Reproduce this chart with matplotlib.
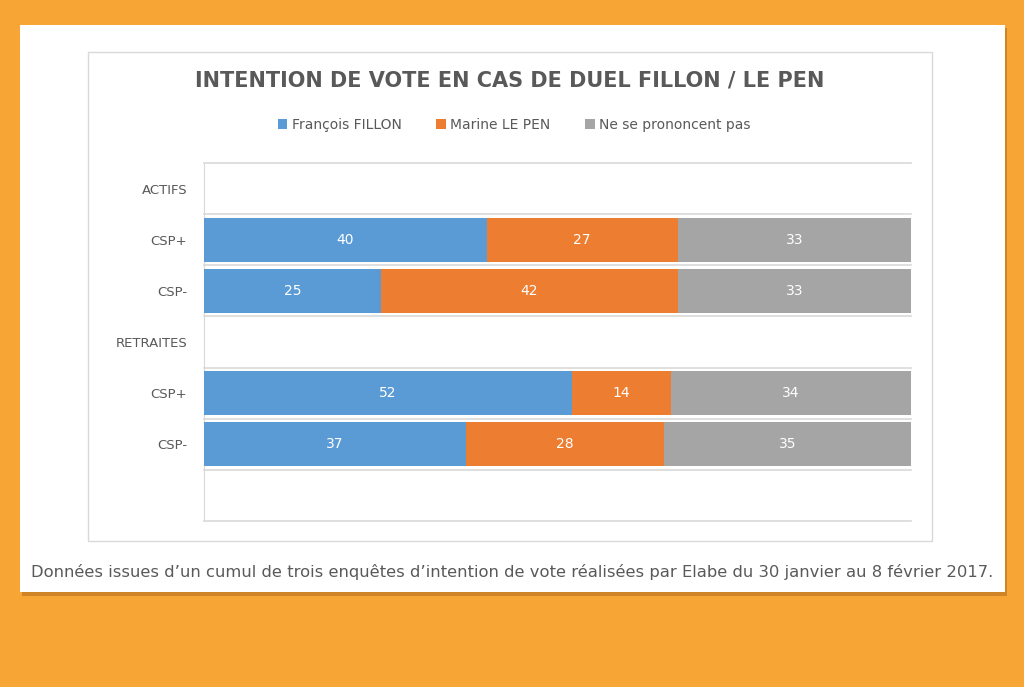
import matplotlib
matplotlib.use("Agg")
import matplotlib.pyplot as plt
from matplotlib.patches import Rectangle
import numpy as np

categories = ["ACTIFS", "CSP+", "CSP-", "RETRAITES", "CSP+", "CSP-", ""]
fillon = [0, 40, 25, 0, 52, 37, 0]
lepen = [0, 27, 42, 0, 14, 28, 0]
nspp = [0, 33, 33, 0, 34, 35, 0]
series_names = ["François FILLON", "Marine LE PEN", "Ne se prononcent pas"]
colors = ["#5B9BD5", "#ED7D31", "#A5A5A5"]

W, H = 1024, 687
fig = plt.figure(figsize=(W / 100, H / 100), dpi=100)
fig.patch.set_facecolor("#F7A534")

def fx(px):
    return px / W

def fy(py):
    return 1 - py / H

# card shadow and card
fig.patches.append(Rectangle((fx(22), fy(596)), fx(985), (596 - 28) / H,
                             transform=fig.transFigure, facecolor="#A06018",
                             alpha=0.45, edgecolor="none", zorder=0))
fig.patches.append(Rectangle((fx(20), fy(592)), fx(985), (592 - 25) / H,
                             transform=fig.transFigure, facecolor="white",
                             edgecolor="none", zorder=1))
# inner chart frame
fig.patches.append(Rectangle((fx(88), fy(541)), fx(932 - 88), (541 - 52) / H,
                             transform=fig.transFigure, facecolor="white",
                             edgecolor="#D9D9D9", linewidth=1, zorder=2))

ax = fig.add_axes([fx(204), fy(521), fx(911 - 204), (521 - 163) / H])
ax.set_zorder(3)
ax.set_facecolor("none")
y = np.arange(len(categories))
data = [fillon, lepen, nspp]
left = np.zeros(len(categories))
for vals, c, name in zip(data, colors, series_names):
    vals = np.array(vals, dtype=float)
    bars = ax.barh(y, vals, left=left, height=0.86, color=c, label=name, zorder=3)
    for b, v in zip(bars, vals):
        if v > 0:
            ax.text(b.get_x() + b.get_width() / 2, b.get_y() + b.get_height() / 2,
                    f"{int(v)}", ha="center", va="center", color="white",
                    fontsize=10, zorder=4)
    left += vals

ax.set_xlim(0, 100)
ax.set_ylim(len(categories) - 0.5, -0.5)
ax.set_yticks(y)
ax.set_yticklabels(categories, fontsize=9.5, color="#595959")
ax.tick_params(axis="y", length=0, pad=12)
ax.set_xticks([])
for yy in np.arange(-0.5, len(categories), 1.0):
    ax.axhline(yy, color="#D9D9D9", linewidth=1.2, zorder=1, clip_on=False)
for s in ["top", "right", "bottom"]:
    ax.spines[s].set_visible(False)
ax.spines["left"].set_color("#D9D9D9")

fig.text(fx(510), fy(80), "INTENTION DE VOTE EN CAS DE DUEL FILLON / LE PEN",
         ha="center", va="center", fontsize=15, fontweight="bold", color="#595959",
         zorder=5)
leg = fig.legend(*ax.get_legend_handles_labels(), loc="center",
                 bbox_to_anchor=(fx(514), fy(125)), ncol=3, frameon=False,
                 fontsize=10, handlelength=0.7, handleheight=0.7,
                 handletextpad=0.3, columnspacing=2.5, labelcolor="#595959")
fig.text(fx(512), fy(572),
         "Données issues d’un cumul de trois enquêtes d’intention de vote réalisées par Elabe du 30 janvier au 8 février 2017.",
         ha="center", va="center", fontsize=11.8, color="#595959", zorder=5)

fig.savefig("out.png", dpi=100, facecolor=fig.get_facecolor())
